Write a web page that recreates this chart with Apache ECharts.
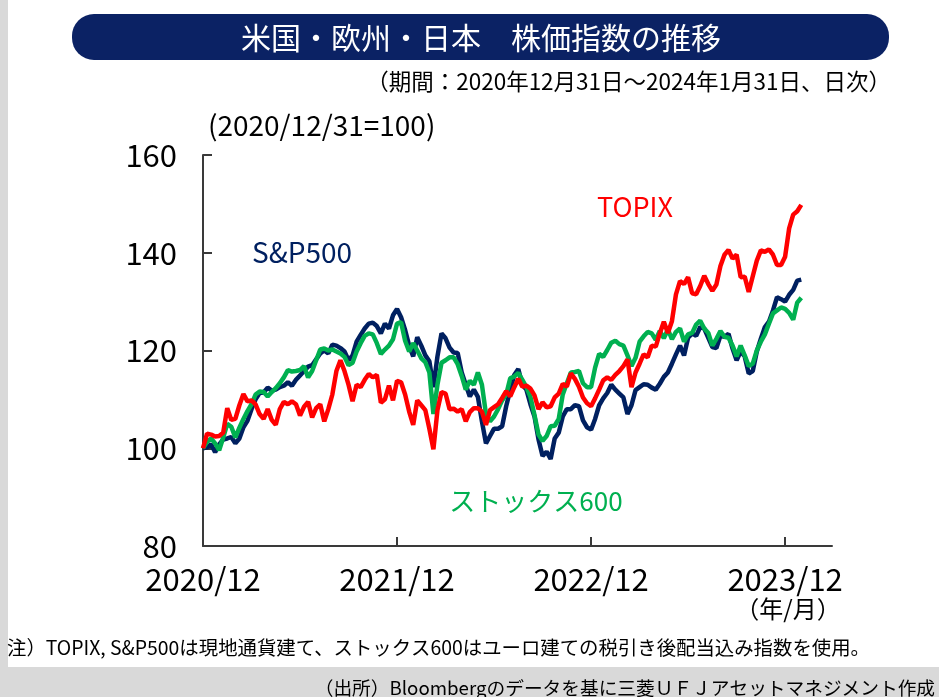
<!DOCTYPE html>
<html>
<head>
<meta charset="UTF-8">
<title>米国・欧州・日本 株価指数の推移</title>
<script src="https://cdn.jsdelivr.net/npm/echarts@6/dist/echarts.min.js"></script>
<style>
html, body { margin: 0; padding: 0; background: #d9d9d9; }
#main { width: 939px; height: 697px; }
</style>
</head>
<body>
<div id="main"></div>
<script>
// 2020/12/31=100, 週次（0.25ヶ月刻み）で読み取り
var sp500 = [
    100, 100.2, 100.8, 99.2, 100.8, 101.8, 102, 102.3, 101, 102,
    104.3, 105.6, 108, 110, 111.3, 111.4, 112.4, 111.8, 112, 112.5,
    112.8, 113.5, 112.8, 114, 114.9, 115.8, 116.7, 117, 118.2, 119.4,
    120, 119.4, 121.2, 121, 120.5, 119.8, 118, 119, 121.8, 123.2,
    124.5, 125.5, 125.7, 125, 123.5, 125.5, 124.5, 127.2, 128.5, 126.8,
    124.2, 121, 118.8, 122.7, 121, 119, 117.8, 112.5, 118.8, 123.5,
    122.5, 120.6, 119.6, 119.5, 115.5, 113, 110.6, 112, 110.5, 105.5,
    101, 102.5, 104, 104, 104.5, 108.6, 111.9, 115, 116.2, 113,
    112, 109, 106.5, 101.8, 98.4, 99.3, 97.8, 102, 103.2, 106.5,
    108, 108, 108.8, 108.6, 105.7, 104.3, 103.8, 106, 108.8, 110.2,
    111.3, 113, 112, 111.2, 110.4, 107, 108.8, 111.9, 112.5, 113.1,
    113, 112.4, 112, 113.2, 114.6, 115.5, 117.3, 119.2, 121, 119,
    122.6, 123.5, 123, 124.8, 124.5, 122.6, 120.7, 120.5, 123, 122.8,
    123.4, 120.4, 118, 119.8, 118.8, 115.3, 115.8, 119.8, 122.4, 124.8,
    125.9, 128.2, 130.9, 130.5, 130, 131.4, 132.4, 134.3, 134.5
];
var stoxx600 = [
    100, 101.3, 102, 101, 99.6, 102.2, 105, 104.4, 102.2, 104.2,
    106, 107.6, 109, 111, 111.6, 111.5, 110.6, 111.5, 112.3, 113.3,
    114.5, 116, 115.7, 115.8, 116, 116.8, 114.5, 115.8, 118, 120.2,
    120.4, 120, 120.2, 119.8, 119.4, 118.7, 117, 117.5, 119.8, 121.5,
    123, 123.5, 123.3, 121.5, 119.3, 120.2, 121, 122.3, 125.5, 125.8,
    122, 119.8, 121.5, 120, 118.4, 117.6, 115.5, 107, 113, 117.5,
    118, 118.6, 118.6, 117.2, 114.8, 112, 113.8, 113, 115.5, 113,
    107, 105.5, 106.5, 108, 109.8, 111, 114.3, 114.7, 115.4, 114,
    112.5, 110.5, 106.8, 102.8, 101.5, 102.5, 104.5, 104.6, 106, 111,
    113.3, 115.5, 115.6, 115.8, 113.3, 112.5, 112.5, 116.5, 119.3, 118.7,
    120.1, 121.6, 122, 121.3, 121, 119, 116.8, 118.5, 121.8, 122.9,
    123.8, 123.5, 122.2, 124, 122.5, 124.3, 122.3, 123.8, 124.5, 121.8,
    123.3, 123.6, 125.3, 126.1, 124.5, 123.6, 121, 122.4, 124, 122.8,
    122.6, 121, 118.8, 121, 119, 116.8, 117.3, 120, 121.8, 123.3,
    125.5, 127.6, 128.2, 128.8, 128.5, 127.7, 126.3, 129.8, 130.8
];
var topix = [
    100, 103, 102.8, 102.4, 102.5, 103.2, 108.2, 105.8, 106, 108.8,
    111.1, 109.6, 109.8, 109, 107, 106, 108, 105.8, 104.8, 108,
    109.5, 109, 109.6, 109, 106.7, 108.5, 109.5, 106.3, 108.2, 109,
    105.5, 108, 111, 115.8, 118, 115.8, 113, 109.6, 113, 112.5,
    114, 115.2, 114.5, 115, 109.3, 110, 112.8, 109.8, 113.8, 113.5,
    111, 107.5, 104.8, 109.8, 108.8, 107.8, 104, 99.8, 107.8, 111.5,
    111.2, 108, 108.1, 107.5, 108, 105.5, 107.4, 108.2, 108.2, 107.5,
    104.8, 107.8, 108.4, 109, 110.3, 111.7, 110.6, 112.5, 114.2, 112.6,
    112.8, 112.2, 110.8, 108, 109.4, 108.4, 108.6, 110.4, 111.2, 113.2,
    112.6, 115.3, 114.2, 112.6, 110.4, 109.2, 108.6, 110.2, 112, 113.9,
    114.5, 114, 115, 115.8, 116.8, 118.2, 112.5, 115.5, 117.3, 119.2,
    118.6, 121, 120.8, 123.5, 125.9, 123.6, 126, 131.5, 134.2, 133.6,
    135, 131.7, 131.5, 133.2, 135.3, 133.6, 132.2, 133.5, 137.3, 139.6,
    140.6, 138.8, 139.6, 135, 135.1, 132, 135.2, 138.4, 140.5, 140.2,
    140.7, 139.6, 137.5, 137.5, 139.2, 145, 147.8, 148.5, 149.8
];
var xTickValues = [0, 12, 24, 36];          // 2020/12 からの月数
var xTickLabels = ['2020/12', '2021/12', '2022/12', '2023/12'];
var yTicks = [80, 100, 120, 140, 160];

var months = topix.map(function (v, i) { return i * 0.25; });
function pairs(arr) {
    return arr.map(function (v, i) { return [months[i], v]; });
}

var FONT = "'Noto Sans CJK JP', sans-serif";
var AXIS = '#3a3a3a';

var myChart = echarts.init(document.getElementById('main'));

var option = {
    animation: false,
    backgroundColor: '#d9d9d9',
    textStyle: { fontFamily: FONT },
    grid: { left: 203, right: 107, top: 155, bottom: 151, containLabel: false, outerBoundsMode: 'none' },
    xAxis: {
        type: 'value',
        min: 0,
        max: 38.9,
        interval: 12,
        axisLine: { lineStyle: { color: AXIS, width: 2 } },
        axisTick: { inside: true, length: 9, customValues: xTickValues.slice(1), lineStyle: { color: AXIS, width: 2 } },
        axisLabel: {
            customValues: xTickValues,
            margin: 18,
            fontSize: 31,
            color: '#000',
            fontFamily: FONT,
            formatter: function (v) { return xTickLabels[xTickValues.indexOf(v)] || ''; }
        },
        splitLine: { show: false }
    },
    yAxis: {
        type: 'value',
        min: yTicks[0],
        max: yTicks[yTicks.length - 1],
        interval: 20,
        axisLine: { show: true, lineStyle: { color: AXIS, width: 2 } },
        axisTick: { show: true, inside: true, length: 9, lineStyle: { color: AXIS, width: 2 } },
        axisLabel: { margin: 26, fontSize: 31, color: '#000', fontFamily: FONT },
        splitLine: { show: false }
    },
    series: [
        { name: 'S&P500', type: 'line', data: pairs(sp500), showSymbol: false, symbol: 'none',
          lineStyle: { color: '#002060', width: 4.5 }, z: 2 },
        { name: 'ストックス600', type: 'line', data: pairs(stoxx600), showSymbol: false, symbol: 'none',
          lineStyle: { color: '#00b050', width: 4.5 }, z: 3 },
        { name: 'TOPIX', type: 'line', data: pairs(topix), showSymbol: false, symbol: 'none',
          lineStyle: { color: '#ff0000', width: 4.5 }, z: 4 }
    ],
    graphic: [
        { type: 'rect', z: -1, shape: { x: 8, y: 0, width: 931, height: 667 }, style: { fill: '#ffffff' } },
        { type: 'rect', shape: { x: 72, y: 14, width: 817, height: 46, r: 22 }, style: { fill: '#0b2264' } },
        { type: 'text', x: 481, y: 38, style: { text: '米国・欧州・日本　株価指数の推移', fill: '#fff', fontSize: 30,
          fontFamily: FONT, align: 'center', verticalAlign: 'middle' } },
        { type: 'text', x: 891, y: 81, style: { text: '（期間：2020年12月31日～2024年1月31日、日次）', fill: '#000', fontSize: 22.5,
          fontFamily: FONT, align: 'right', verticalAlign: 'middle' } },
        { type: 'text', x: 208, y: 125, style: { text: '(2020/12/31=100)', fill: '#000', fontSize: 28,
          fontFamily: FONT, align: 'left', verticalAlign: 'middle' } },
        { type: 'text', x: 635, y: 207, style: { text: 'TOPIX', fill: '#ff0000', fontSize: 27,
          fontFamily: FONT, align: 'center', verticalAlign: 'middle' } },
        { type: 'text', x: 302, y: 252, style: { text: 'S&P500', fill: '#002060', fontSize: 28,
          fontFamily: FONT, align: 'center', verticalAlign: 'middle' } },
        { type: 'text', x: 536, y: 501, style: { text: 'ストックス600', fill: '#00b050', fontSize: 26,
          fontFamily: FONT, align: 'center', verticalAlign: 'middle' } },
        { type: 'text', x: 788, y: 609, style: { text: '（年/月）', fill: '#000', fontSize: 24,
          fontFamily: FONT, align: 'center', verticalAlign: 'middle' } },
        { type: 'text', x: 7, y: 648, style: { text: '注）TOPIX, S&P500は現地通貨建て、ストックス600はユーロ建ての税引き後配当込み指数を使用。',
          fill: '#000', fontSize: 19.4, fontFamily: FONT, align: 'left', verticalAlign: 'middle' } },
        { type: 'text', x: 935, y: 688, style: { text: '（出所）Bloombergのデータを基に三菱ＵＦＪアセットマネジメント作成',
          fill: '#000', fontSize: 18.7, fontFamily: FONT, align: 'right', verticalAlign: 'middle' } }
    ]
};

myChart.setOption(option);
</script>
</body>
</html>
